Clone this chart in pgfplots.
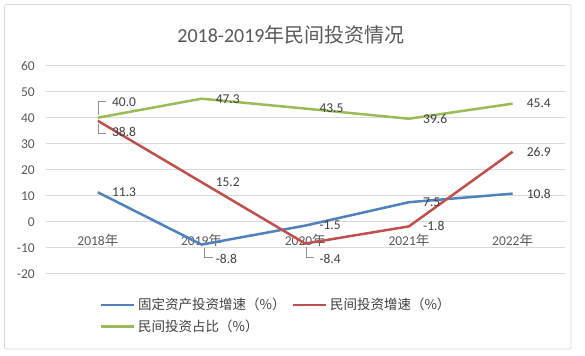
\documentclass[border=0pt]{standalone}
\usepackage{pgfplots}
\usepackage{pgfplotstable}
\pgfplotsset{compat=1.18}
\usepackage{fontspec}
\setmainfont{Carlito}
\newfontfamily\cjk{Noto Sans CJK SC}
\definecolor{cblue}{HTML}{4F81BD}
\definecolor{cred}{HTML}{C0504D}
\definecolor{cgreen}{HTML}{9BBB59}
\definecolor{tgray}{HTML}{595959}
\definecolor{lgray}{HTML}{404040}
\definecolor{gridc}{HTML}{D9D9D9}

\pgfplotstableread{
x y lab dy
0 11.3 11.3 0
1 -8.8 -8.8 -14
2 -1.5 -1.5 0
3 7.5 7.5 0
4 10.8 10.8 0
}\blueT
\pgfplotstableread{
x y lab dy
0 38.8 38.8 -11
1 15.2 15.2 0
2 -8.4 -8.4 -15
3 -1.8 -1.8 0
4 26.9 26.9 0
}\redT
\pgfplotstableread{
x y lab dy
0 40.0 40.0 16
1 47.3 47.3 0
2 43.5 43.5 0
3 39.6 39.6 0
4 45.4 45.4 0
}\greenT

\begin{document}
\begin{tikzpicture}
\useasboundingbox (0,0) rectangle (585bp,356bp);
\fill[white] (0,0) rectangle (585bp,356bp);
\draw[gridc, line width=0.75bp, rounded corners=2bp] (4.5bp,7bp) rectangle (571bp,351.5bp);
\node[text=tgray, font=\fontsize{20bp}{24bp}\selectfont] at (291bp,321bp) {2018-2019{\cjk 年民间投资情况}};
\begin{axis}[
  at={(46bp,82.3bp)}, anchor=south west,
  scale only axis, width=518.5bp, height=208bp,
  xmin=-0.5, xmax=4.5, ymin=-20, ymax=60,
  enlargelimits=false, clip=false,
  xtick={0,1,2,3,4},
  xticklabels={2018{\cjk 年},2019{\cjk 年},2020{\cjk 年},2021{\cjk 年},2022{\cjk 年}},
  ytick={-20,-10,...,60},
  ymajorgrids, grid style={gridc, line width=0.75bp},
  axis line style={draw=none}, major tick length=0pt,
  /pgf/number format/assume math mode=true,
  tick label style={font=\fontsize{13.5bp}{16bp}\selectfont, text=tgray},
  y tick label style={inner sep=0pt, xshift=-11bp},
  x tick label style={inner sep=0pt, yshift=39.4bp},
  every axis plot/.append style={line width=2.5bp, line join=round},
  nodes near coords,
  point meta=explicit symbolic,
  visualization depends on={\thisrow{dy}\as\dy},
  nodes near coords style={anchor=west, inner sep=0pt, xshift=13bp, yshift=\dy*1bp,
     font=\fontsize{13.5bp}{16bp}\selectfont, text=lgray},
  legend columns=2,
  legend cell align=left,
  legend style={draw=none, fill=none, at={(axis description cs:0.104,-0.118)}, anchor=north west,
     inner sep=0pt, font=\fontsize{13.5bp}{16bp}\selectfont, text=lgray,
     nodes={inner xsep=2.5bp, inner ysep=0pt},
     row sep=8.5bp,
     /tikz/every even column/.append style={column sep=4bp}},
  legend image code/.code={\draw[#1, line width=2.5bp] (0bp,0bp) -- (33bp,0bp);},
]
\addplot[cblue, no markers] table[x=x, y=y, meta=lab] {\blueT};
\addlegendentry{{\cjk 固定资产投资增速（\%）}}
\addplot[cred, no markers] table[x=x, y=y, meta=lab] {\redT};
\addlegendentry{{\cjk 民间投资增速（\%）}}
\addplot[cgreen, no markers] table[x=x, y=y, meta=lab] {\greenT};
\addlegendentry{{\cjk 民间投资占比（\%）}}
\draw[lgray!60, line width=0.6bp] (axis cs:0,40) ++(0bp,2.5bp) |- ++(8bp,14bp);
\draw[lgray!60, line width=0.6bp] (axis cs:0,38.8) ++(0bp,-3bp) |- ++(8bp,-9bp);
\draw[lgray!60, line width=0.6bp] (axis cs:1,-8.8) ++(3bp,-3bp) |- ++(8bp,-10bp);
\draw[lgray!60, line width=0.6bp] (axis cs:2,-8.4) ++(1bp,-3bp) |- ++(8bp,-11bp);
\end{axis}
\end{tikzpicture}
\end{document}
